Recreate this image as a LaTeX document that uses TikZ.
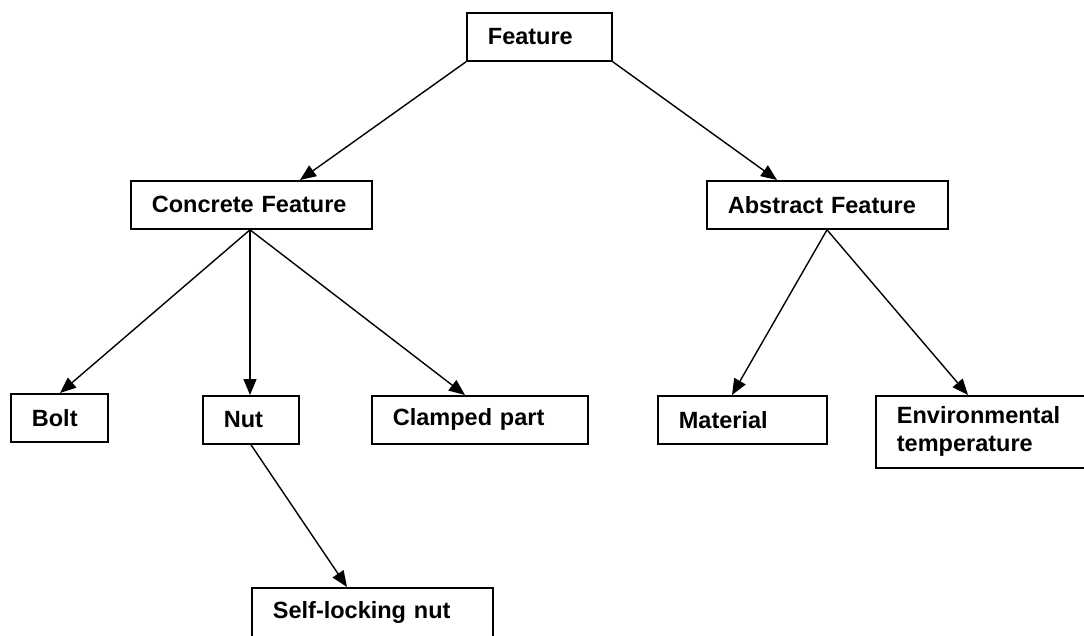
\documentclass[tikz,border=0pt]{standalone}
\usepackage{fontspec}
\setmainfont{Liberation Sans}
\usetikzlibrary{arrows.meta,calc}
\begin{document}
\begin{tikzpicture}[x=1pt,y=-1pt,
  box/.style={draw, line width=1.8pt, anchor=north west, inner xsep=21pt, inner ysep=0pt,
    align=left, minimum height=48pt, font=\fontsize{23.5}{28}\selectfont\bfseries},
  conn/.style={line width=1.4pt, -{Triangle[length=16pt,width=13pt]}}]
\useasboundingbox (0,0) rectangle (1084,635);
\begin{scope}
\clip (0,0) rectangle (1084,635);
\node[box, text width=103pt] (feature) at (466,12) {Feature};
\node[box, text width=199pt] (concrete) at (130,180) {Concrete Feature};
\node[box, text width=199pt] (abstract) at (706,180) {Abstract Feature};
\node[box, text width=55pt] (bolt) at (10,393) {Bolt};
\node[box, text width=54pt] (nut) at (202,395) {Nut};
\node[box, text width=174pt] (clamped) at (371,395) {Clamped part};
\node[box, text width=127pt] (material) at (657,395) {Material};
\node[box, text width=170pt, minimum height=72pt] (env) at (875,395) {Environmental\\temperature};
\node[box, text width=199pt, minimum height=49pt] (selflock) at (251,587) {Self-locking nut};

\draw[conn] (feature.south west) -- ($(concrete.north west)+(170,0)$);
\draw[conn] (feature.south east) -- ($(abstract.north west)+(71,0)$);
\coordinate (cf) at ($(concrete.south west)+(120,0)$);
\draw[conn] (cf) -- ($(bolt.north west)+(50,0)$);
\draw[conn] (cf) -- ($(nut.north west)+(48,0)$);
\draw[conn] (cf) -- ($(clamped.north west)+(94,0)$);
\coordinate (af) at ($(abstract.south west)+(121,0)$);
\draw[conn] (af) -- ($(material.north west)+(75,0)$);
\draw[conn] (af) -- ($(env.north west)+(93,0)$);
\draw[conn] ($(nut.south west)+(49,0)$) -- ($(selflock.north west)+(96,0)$);
\end{scope}
\end{tikzpicture}
\end{document}
